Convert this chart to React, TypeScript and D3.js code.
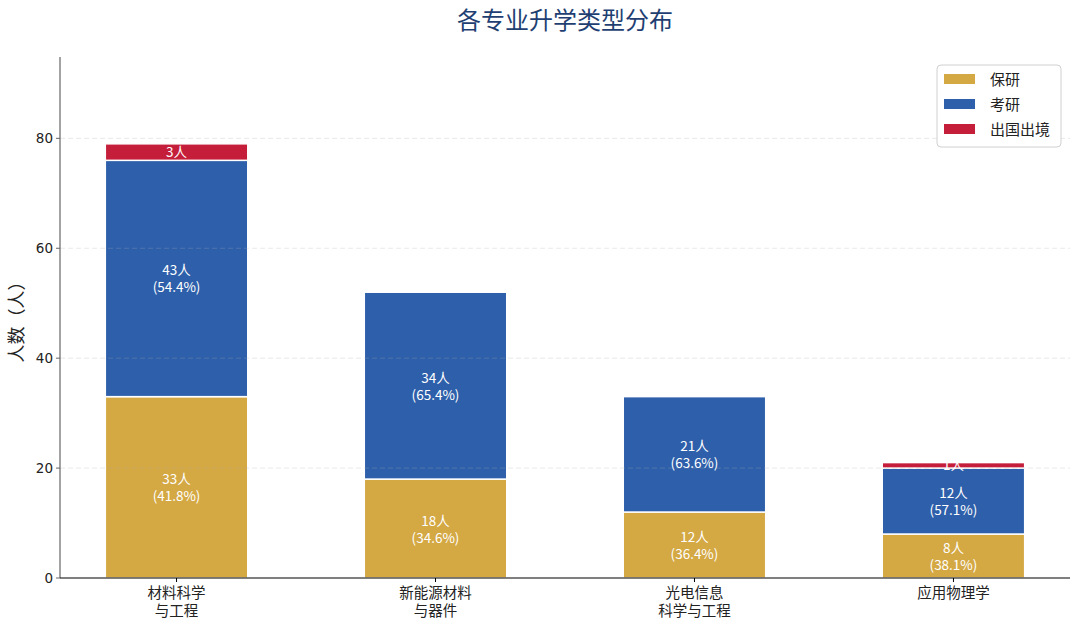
import * as d3 from "d3";

const majors = ["材料科学\n与工程", "新能源材料\n与器件", "光电信息\n科学与工程", "应用物理学"];
const seriesNames = ["保研", "考研", "出国出境"];
const baoyan = [33, 18, 12, 8];
const kaoyan = [43, 34, 21, 12];
const chuguo = [3, 0, 0, 1];
const yTicks = [0, 20, 40, 60, 80];
const colors = ["#D4A843", "#2E5FAA", "#C41E3A"];

const W = 1080;
const H = 631;
const m = { left: 60, right: 1070, top: 57, bottom: 578 };

export default function App() {
  const values = [baoyan, kaoyan, chuguo];
  const totals = majors.map((_, i) => baoyan[i] + kaoyan[i] + chuguo[i]);
  const ymax = (d3.max(totals) ?? 0) * 1.2;

  // bar positions 0..n-1, width 0.55, side margins 0.45
  const x = d3.scaleLinear().domain([-0.45, majors.length - 0.55]).range([m.left, m.right]);
  const y = d3.scaleLinear().domain([0, ymax]).range([m.bottom, m.top]);
  const bw = x(0.55) - x(0);

  const segs: { i: number; s: number; y0: number; y1: number; v: number }[] = [];
  majors.forEach((_, i) => {
    let acc = 0;
    values.forEach((arr, s) => {
      const v = arr[i];
      if (v > 0) segs.push({ i, s, y0: acc, y1: acc + v, v });
      acc += v;
    });
  });

  const cjk = "'Noto Sans CJK SC', 'Noto Sans', sans-serif";

  return (
    <svg width={W} height={H} style={{ display: "block", position: "absolute", left: 0, top: 0 }}>
      <rect width={W} height={H} fill="white" />
      <text x={(m.left + m.right) / 2} y={29} textAnchor="middle" fontFamily={cjk} fontSize={24} fill="#1F3F73">
        各专业升学类型分布
      </text>

      {segs.map((d, k) => (
        <rect
          key={k}
          x={x(d.i) - bw / 2}
          width={bw}
          y={y(d.y1)}
          height={y(d.y0) - y(d.y1)}
          fill={colors[d.s]}
          stroke="white"
          strokeWidth={1.5}
        />
      ))}

      {/* grid over bars */}
      {yTicks.slice(1).map((t) => (
        <line key={t} x1={m.left} x2={m.right} y1={y(t)} y2={y(t)} stroke="#b0b0b0" strokeOpacity={0.35} strokeDasharray="5,3" strokeWidth={0.8} />
      ))}

      {segs.map((d, k) => {
        const cy = y((d.y0 + d.y1) / 2);
        const pct = ((d.v / totals[d.i]) * 100).toFixed(1);
        const big = d.v / totals[d.i] > 0.08;
        return big ? (
          <g key={k} fontFamily={cjk} fontSize={13.5} fill="white" textAnchor="middle">
            <text x={x(d.i)} y={cy - 3}>{`${d.v}人`}</text>
            <text x={x(d.i)} y={cy + 14}>{`(${pct}%)`}</text>
          </g>
        ) : (
          <text key={k} x={x(d.i)} y={cy + 5} fontFamily={cjk} fontSize={13.5} fill="white" textAnchor="middle">
            {`${d.v}人`}
          </text>
        );
      })}

      {/* axes */}
      <line x1={m.left} x2={m.left} y1={m.top} y2={m.bottom} stroke="#666" strokeWidth={1.2} />
      <line x1={m.left} x2={m.right} y1={m.bottom} y2={m.bottom} stroke="#000" strokeWidth={1.2} />
      {yTicks.map((t) => (
        <g key={t}>
          <line x1={m.left - 4} x2={m.left} y1={y(t)} y2={y(t)} stroke="#666" />
          <text x={m.left - 7} y={y(t) + 5} textAnchor="end" fontFamily="'DejaVu Sans', sans-serif" fontSize={13.5} fill="#222">
            {t}
          </text>
        </g>
      ))}
      {majors.map((name, i) => (
        <g key={i}>
          <line x1={x(i)} x2={x(i)} y1={m.bottom} y2={m.bottom + 4} stroke="#000" />
          {name.split("\n").map((ln, j) => (
            <text key={j} x={x(i)} y={598 + j * 18} textAnchor="middle" fontFamily={cjk} fontSize={14.5} fill="#222">
              {ln}
            </text>
          ))}
        </g>
      ))}
      <text transform={`translate(23, ${(m.top + m.bottom) / 2}) rotate(-90)`} textAnchor="middle" fontFamily={cjk} fontSize={18} fill="#222">
        人数（人）
      </text>

      {/* legend */}
      <rect x={937} y={65} width={124} height={82} rx={4} fill="white" stroke="#d0d0d0" />
      {seriesNames.map((n, s) => (
        <g key={n}>
          <rect x={944} y={74 + s * 25} width={31} height={10} fill={colors[s]} />
          <text x={990} y={85 + s * 25} fontFamily={cjk} fontSize={15} fill="#222">
            {n}
          </text>
        </g>
      ))}
    </svg>
  );
}
